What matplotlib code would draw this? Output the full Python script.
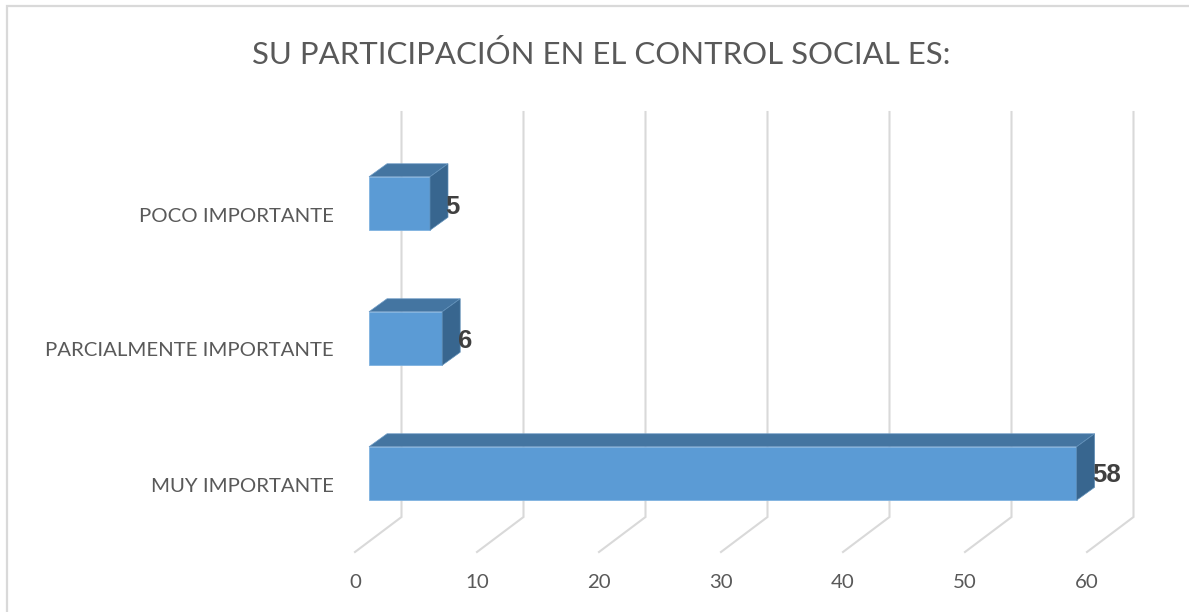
import matplotlib
matplotlib.use("Agg")
import matplotlib.pyplot as plt
from matplotlib.patches import Polygon, Rectangle

categories = ["MUY IMPORTANTE", "PARCIALMENTE IMPORTANTE", "POCO IMPORTANTE"]
values = [58, 6, 5]
x_ticks = [0, 10, 20, 30, 40, 50, 60]
title = "SU PARTICIPACIÓN EN EL CONTROL SOCIAL ES:"

W, H = 1189, 612
plt.rcParams["font.family"] = ["Lato", "DejaVu Sans"]
fig = plt.figure(figsize=(W / 100, H / 100), dpi=100)
fig.patch.set_facecolor("white")
fig.add_artist(Rectangle((7 / W, -0.02), 1.1, 1 - 6 / H + 0.02, transform=fig.transFigure,
                         fill=False, edgecolor="#d9d9d9", linewidth=1.6))

ax = fig.add_axes([355 / W, (H - 552) / H, 732 / W, 405 / H])
ax.set_xlim(0, 60)
ax.set_ylim(-0.5, 2.5)
ax.patch.set_alpha(0)
for s in ax.spines.values():
    s.set_visible(False)

PX = 12.2
PY = 135.0
DX, DY = 46.5 / PX, 35 / PY          # full floor depth in data units
BX0, BY0 = 14 / PX, 11 / PY          # bar front-face offset
BDX, BDY = 18 / PX, 13 / PY          # bar depth
BH = 53.5 / PY

grid = "#d9d9d9"
for t in x_ticks:
    ax.plot([t, t + DX, t + DX], [-0.5, -0.5 + DY, 2.5 + DY], color=grid, lw=1.5,
            clip_on=False, zorder=1, solid_joinstyle="miter")

ys = list(range(len(categories)))
ax.barh([y + BY0 for y in ys], values, height=BH, left=BX0, color="#5b9bd5",
        edgecolor="#7fb2e0", linewidth=0.6, zorder=3)
label_dy = [-2, -2, -4]
for y, v, d in zip(ys, values, label_dy):
    b, t, l, r = y + BY0 - BH / 2, y + BY0 + BH / 2, BX0, BX0 + v
    ax.add_patch(Polygon([(l, t), (r, t), (r + BDX, t + BDY), (l + BDX, t + BDY)],
                         facecolor="#4475a1", edgecolor="#6f9cc6", lw=0.5, zorder=3, clip_on=False))
    ax.add_patch(Polygon([(r, b), (r + BDX, b + BDY), (r + BDX, t + BDY), (r, t)],
                         facecolor="#38668f", edgecolor="#5f8fb8", lw=0.5, zorder=3, clip_on=False))
    ax.annotate(str(v), (r, y + BY0), xytext=(15.5, d), textcoords="offset pixels",
                ha="left", va="center", fontsize=18.5, fontweight="bold", color="#404040",
                family="Liberation Sans", zorder=4, annotation_clip=False)

ax.set_xticks(x_ticks)
ax.set_yticks(ys, categories)
ax.tick_params(axis="both", length=0, labelcolor="#595959", labelsize=14.7)
ax.tick_params(axis="x", pad=16)
ax.tick_params(axis="y", pad=15.5)

fig.text(601 / W, 1 - 54.5 / H, title, ha="center", va="center", fontsize=22.4, color="#595959")

fig.savefig("out.png", dpi=100)
